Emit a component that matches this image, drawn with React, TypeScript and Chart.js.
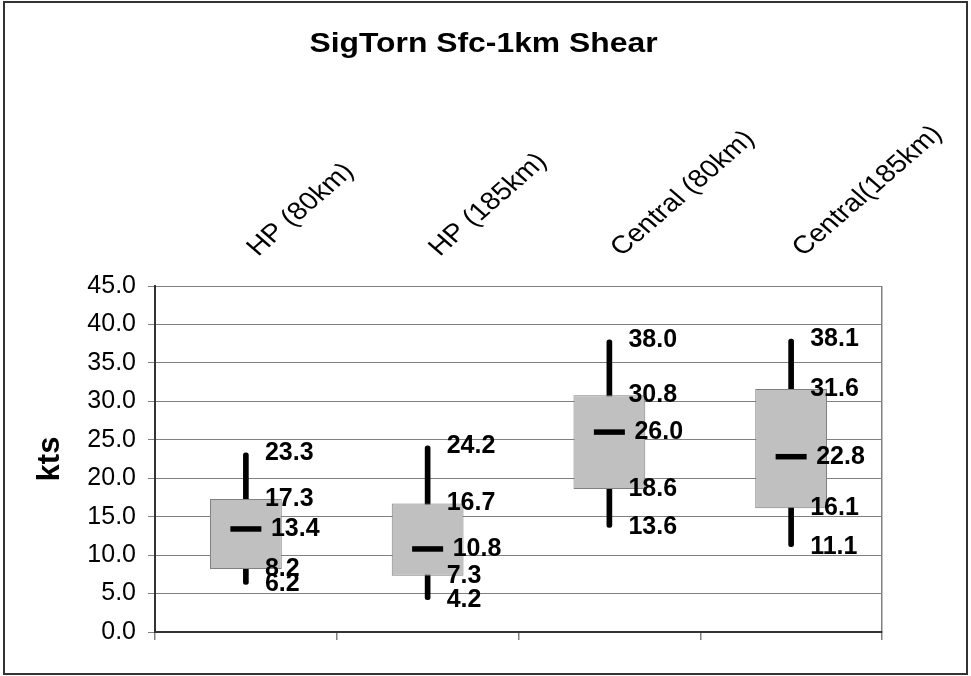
import React, { useEffect, useRef } from "react";
import { Chart, registerables } from "chart.js";

Chart.register(...registerables);

// Box-plot summary of surface to 1 km shear by storm class and radius
const categories = ["HP (80km)", "HP (185km)", "Central (80km)", "Central(185km)"];
const maxVals = [23.3, 24.2, 38.0, 38.1];
const q3Vals = [17.3, 16.7, 30.8, 31.6];
const medianVals = [13.4, 10.8, 26.0, 22.8];
const q1Vals = [8.2, 7.3, 18.6, 16.1];
const minVals = [6.2, 4.2, 13.6, 11.1];

const yTickMin = 0;
const yTickMax = 45;
const yTickStep = 5;

const chartTitle = "SigTorn Sfc-1km Shear";
const yAxisTitle = "kts";

const FONT = "'Liberation Sans', Arial, sans-serif";

// Frame around the whole figure plus the heading
const framePlugin = {
  id: "frame",
  afterDraw(chart: any) {
    const { ctx } = chart;
    ctx.save();
    ctx.strokeStyle = "#333333";
    ctx.lineWidth = 2;
    ctx.strokeRect(4, 2, 963, 672);

    ctx.fillStyle = "#000";
    ctx.font = `bold 27px ${FONT}`;
    ctx.textAlign = "center";
    ctx.textBaseline = "alphabetic";
    ctx.translate(chart.width / 2 - 2, 52);
    ctx.scale(1.18, 1);
    ctx.fillText(chartTitle, 0, 0);
    ctx.restore();
  },
};

// Slanted category names above the plot area
const categoryLabelPlugin = {
  id: "categoryLabels",
  afterDraw(chart: any) {
    const { ctx } = chart;
    const x = chart.scales.x;
    ctx.save();
    ctx.fillStyle = "#000";
    ctx.font = `25px ${FONT}`;
    ctx.textAlign = "left";
    ctx.textBaseline = "alphabetic";
    categories.forEach((name, i) => {
      const px = x.getPixelForValue(i);
      ctx.save();
      ctx.translate(px + 12, chart.chartArea.top - 29);
      ctx.scale(1.15, 1);
      ctx.rotate(-Math.PI / 4);
      ctx.fillText(name, 0, 0);
      ctx.restore();
    });
    ctx.restore();
  },
};

// Value annotations beside each box
const valueLabelPlugin = {
  id: "valueLabels",
  afterDatasetsDraw(chart: any) {
    const { ctx } = chart;
    const x = chart.scales.x;
    const y = chart.scales.y;
    ctx.save();
    ctx.fillStyle = "#000";
    ctx.font = `bold 25px ${FONT}`;
    ctx.textAlign = "left";
    ctx.textBaseline = "middle";
    categories.forEach((_, i) => {
      const px = x.getPixelForValue(i);
      [maxVals[i], q3Vals[i], q1Vals[i], minVals[i]].forEach((v) => {
        ctx.fillText(v.toFixed(1), px + 19, y.getPixelForValue(v));
      });
      ctx.fillText(medianVals[i].toFixed(1), px + 25, y.getPixelForValue(medianVals[i]));
    });
    ctx.restore();
  },
};

export default function App() {
  const canvasRef = useRef<HTMLCanvasElement | null>(null);

  useEffect(() => {
    if (!canvasRef.current) return;
    const chart = new Chart(canvasRef.current, {
      type: "bar",
      data: {
        labels: categories,
        datasets: [
          {
            type: "line",
            label: "Median",
            data: medianVals,
            showLine: false,
            pointStyle: "line",
            pointRadius: 15.5,
            pointBorderWidth: 5.5,
            pointBorderColor: "#000",
            pointBackgroundColor: "#000",
            order: 1,
          } as any,
          {
            label: "Interquartile",
            data: q1Vals.map((v, i) => [v, q3Vals[i]]),
            backgroundColor: "#c0c0c0",
            borderColor: "#808080",
            borderWidth: 1,
            borderSkipped: false,
            barPercentage: 0.395,
            categoryPercentage: 1,
            grouped: false,
            order: 2,
          },
          {
            label: "Range",
            data: minVals.map((v, i) => [v, maxVals[i]]),
            backgroundColor: "#000",
            barThickness: 5,
            borderRadius: 2.5,
            borderSkipped: false,
            grouped: false,
            order: 3,
          },
        ],
      },
      options: {
        responsive: false,
        animation: false,
        events: [],
        devicePixelRatio: 1,
        layout: { padding: { top: 286, left: 0, right: 89, bottom: 36 } },
        plugins: {
          legend: { display: false },
          tooltip: { enabled: false },
          title: { display: false },
        },
        scales: {
          x: {
            type: "category",
            offset: true,
            grid: {
              offset: true,
              drawOnChartArea: true,
              color: (ctx: any) => (ctx.tick ? "rgba(0,0,0,0)" : "#808080"),
              lineWidth: 1.5,
              tickColor: "#808080",
              tickLength: 8,
              tickWidth: 1.5,
            },
            border: { color: "#333333", width: 2 },
            ticks: { display: false },
          },
          y: {
            min: yTickMin,
            max: yTickMax,
            ticks: {
              stepSize: yTickStep,
              color: "#000",
              padding: 12,
              font: { family: FONT, size: 25 },
              callback: (v: any) => Number(v).toFixed(1),
            },
            grid: {
              color: "#808080",
              lineWidth: 1,
              tickColor: "#808080",
              tickLength: 7,
            },
            border: { color: "#333333", width: 2 },
            title: {
              display: true,
              text: yAxisTitle,
              color: "#000",
              font: { family: FONT, size: 31, weight: "bold", lineHeight: 1.2 },
              padding: { top: 32, bottom: 0 },
            },
            afterFit: (scale: any) => {
              scale.width = 155;
            },
          },
        },
      },
      plugins: [framePlugin, categoryLabelPlugin, valueLabelPlugin],
    });
    return () => chart.destroy();
  }, []);

  return (
    <div style={{ position: "fixed", left: 0, top: 0, width: 971, height: 676, background: "#fff" }}>
      <canvas ref={canvasRef} width={971} height={676} style={{ display: "block" }} />
    </div>
  );
}
